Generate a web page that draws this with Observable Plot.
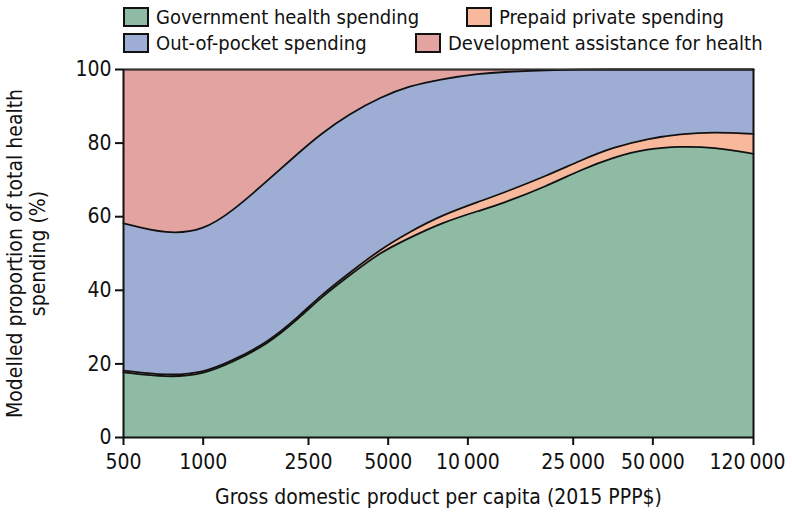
<!DOCTYPE html>
<html><head><meta charset="utf-8">
<script src="https://cdn.jsdelivr.net/npm/d3@7"></script>
<script src="https://cdn.jsdelivr.net/npm/@observablehq/plot@0.6"></script>
<style>
body{margin:0;background:#fff;font-family:"DejaVu Sans Condensed","Liberation Sans Narrow",sans-serif;}
#wrap{position:relative;width:792px;height:514px}
#legend{position:absolute;left:0;top:0;width:792px;height:60px;font-size:20px;color:#111}
.item{position:absolute;display:flex;align-items:center;white-space:nowrap;height:26px}
.sw{width:26px;height:20px;border:2px solid #111;margin-right:7px;box-sizing:border-box}
#chart svg{display:block}
</style></head><body>
<div id="wrap"><div id="chart"></div><div id="legend"></div></div>
<script>
const gdp = [500, 730, 1000, 1300, 1750, 2330, 2780, 3580, 4680, 6000, 7900, 11200, 13300, 20000, 26600, 35500, 47700, 63600, 84700, 120000];
const government = [17.7, 16.3, 17.1, 20.6, 25.3, 32.8, 38.0, 44.1, 50.4, 54.2, 58.3, 61.8, 63.4, 68.4, 72.7, 76.2, 78.5, 79.1, 78.9, 77.1];
const prepaid = [0.5, 0.5, 0.4, 0.4, 0.5, 0.5, 0.6, 0.7, 0.8, 1.6, 2.0, 2.5, 2.8, 2.8, 2.6, 2.7, 2.7, 3.4, 4.1, 5.4];
const outOfPocket = [40.0, 38.4, 38.7, 40.7, 44.0, 44.5, 43.9, 43.2, 41.3, 39.7, 37.1, 34.6, 33.1, 28.6, 24.7, 21.1, 18.8, 17.5, 17.0, 17.5];
const dah = [41.8, 44.8, 43.8, 38.3, 30.2, 22.2, 17.5, 12.0, 7.5, 4.5, 2.6, 1.1, 0.7, 0.2, 0, 0, 0, 0, 0, 0];
const seriesNames = ["Government health spending", "Prepaid private spending", "Out-of-pocket spending", "Development assistance for health"];
const seriesColors = ["#8fbba4", "#f8b89c", "#9dadd4", "#e2a3a1"];
const xTicks = [500, 1000, 2500, 5000, 10000, 25000, 50000, 120000];
const yTicks = [0, 20, 40, 60, 80, 100];
const xLabel = "Gross domestic product per capita (2015 PPP$)";
const yLabel = "Modelled proportion of total health\nspending (%)";

const seriesValues = [government, prepaid, outOfPocket, dah];
const rows = [];
seriesNames.forEach((name, i) => gdp.forEach((g, j) => rows.push({gdp: g, value: seriesValues[i][j], series: name})));

// legend
const legendPos = [[123, 4], [466, 4], [123, 30], [415, 30]];
const legend = document.getElementById("legend");
seriesNames.forEach((name, i) => {
  const it = document.createElement("div");
  it.className = "item";
  it.style.left = legendPos[i][0] + "px";
  it.style.top = legendPos[i][1] + "px";
  it.innerHTML = `<span class="sw" style="background:${seriesColors[i]}"></span><span>${name}</span>`;
  legend.appendChild(it);
});

const fmt = d => d >= 10000 ? d3.format(",")(d).replace(/,/g, "\u2009") : String(d);
const stackOpts = {x: "gdp", y: "value", z: "series", order: seriesNames, curve: "basis"};
const lastTick = xTicks[xTicks.length - 1];

const chart = Plot.plot({
  width: 792,
  height: 514,
  marginTop: 69,
  marginLeft: 123,
  marginRight: 39,
  marginBottom: 77,
  style: {fontSize: "21px", fontFamily: "'DejaVu Sans Condensed','Liberation Sans Narrow',sans-serif", color: "#111", background: "#fff"},
  x: {type: "log", domain: [500, 120000]},
  y: {domain: [0, 100]},
  color: {domain: seriesNames, range: seriesColors},
  marks: [
    Plot.areaY(rows, Plot.stackY({...stackOpts, fill: "series"})),
    Plot.lineY(rows, Plot.stackY2({...stackOpts, stroke: "#111", strokeWidth: 1.8})),
    Plot.ruleY([100], {stroke: "#333", strokeWidth: 1}),
    Plot.ruleY([0], {stroke: "#111", strokeWidth: 2}),
    Plot.ruleX([500, 120000], {stroke: "#111", strokeWidth: 2}),
    Plot.axisX({ticks: xTicks, tickFormat: () => "", tickSize: 8, strokeWidth: 2, label: null}),
    Plot.text(xTicks.filter(d => d !== lastTick), {x: d => d, text: fmt, frameAnchor: "bottom", dy: 25, lineAnchor: "middle", fill: "#111"}),
    Plot.text([lastTick], {x: d => d, text: fmt, frameAnchor: "bottom", dy: 25, dx: -6, lineAnchor: "middle", fill: "#111"}),
    Plot.axisY({ticks: yTicks, tickSize: 8, tickPadding: 4, strokeWidth: 2, label: null}),
    Plot.text([xLabel], {frameAnchor: "bottom", dy: 60, lineAnchor: "middle", text: d => d, fill: "#111"}),
    Plot.text([yLabel], {frameAnchor: "left", dx: -97, rotate: -90, textAnchor: "middle", lineAnchor: "middle", lineHeight: 1.1, text: d => d, fill: "#111"})
  ]
});
document.getElementById("chart").appendChild(chart);
</script>
</body></html>
